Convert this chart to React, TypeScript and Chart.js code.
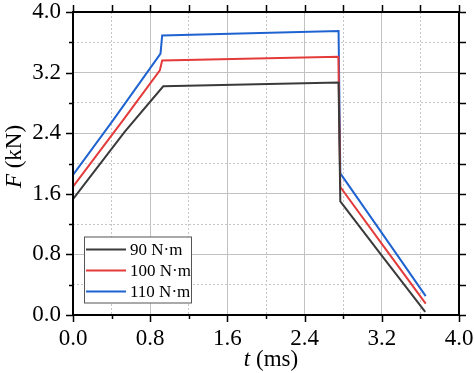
import React, { useEffect, useRef } from 'react';
import { Chart, registerables } from 'chart.js';

Chart.register(...registerables);

// ---- data (t in ms, F in kN) ----
const t90 = [0, 0.537, 0.935, 2.752, 2.77, 3.19, 3.65];
const f90 = [1.53, 2.42, 3.02, 3.07, 1.5, 0.8, 0.04];

const t100 = [0, 0.523, 0.9, 0.924, 2.75, 2.77, 3.28, 3.655];
const f100 = [1.695, 2.58, 3.23, 3.36, 3.41, 1.69, 0.8, 0.15];

const t110 = [0, 0.42, 0.907, 0.924, 2.752, 2.77, 3.355, 3.655];
const f110 = [1.85, 2.58, 3.45, 3.69, 3.75, 1.87, 0.8, 0.25];

const seriesLabels = ['90 N·m', '100 N·m', '110 N·m'];
const seriesColors = ['#3a3a3a', '#e53a3a', '#1f63d1'];

const axisMin = 0;
const axisMax = 4;
const tickStep = 0.4;
const majorStep = 0.8;

const FONT = '"Liberation Serif", "Times New Roman", serif';

const isMajor = (v: number) => Math.abs(v / majorStep - Math.round(v / majorStep)) < 1e-6;

const toPoints = (xs: number[], ys: number[]) => xs.map((x, i) => ({ x, y: ys[i] }));

const decorPlugin = {
  id: 'decor',
  afterDraw(chart: any) {
    const { ctx, chartArea: a, scales } = chart;
    const xs = scales.x;
    const ys = scales.y;
    ctx.save();
    // tick marks on all four sides
    ctx.strokeStyle = '#000';
    ctx.lineWidth = 1.5;
    ctx.beginPath();
    xs.ticks.forEach((t: any) => {
      const px = Math.round(xs.getPixelForValue(t.value)) + 0.5;
      const len = isMajor(t.value) ? 7 : 4;
      ctx.moveTo(px, a.bottom);
      ctx.lineTo(px, a.bottom + len);
      ctx.moveTo(px, a.top);
      ctx.lineTo(px, a.top - 7);
    });
    ys.ticks.forEach((t: any) => {
      const py = Math.round(ys.getPixelForValue(t.value)) + 0.5;
      const len = isMajor(t.value) ? 7 : 4;
      ctx.moveTo(a.left, py);
      ctx.lineTo(a.left - len, py);
      ctx.moveTo(a.right, py);
      ctx.lineTo(a.right + 7, py);
    });
    ctx.stroke();
    // frame
    ctx.lineWidth = 2;
    ctx.strokeRect(a.left, a.top, a.right - a.left, a.bottom - a.top);

    // legend
    const lx = 84.5, ly = 237, lw = 107, lh = 66;
    ctx.fillStyle = '#fff';
    ctx.fillRect(lx, ly, lw, lh);
    ctx.strokeStyle = '#555';
    ctx.lineWidth = 1;
    ctx.strokeRect(lx, ly, lw, lh);
    const rows = [249.5, 270.5, 291.5];
    ctx.font = `17px ${FONT}`;
    ctx.textBaseline = 'middle';
    ctx.textAlign = 'left';
    chart.data.datasets.forEach((ds: any, i: number) => {
      ctx.strokeStyle = ds.borderColor;
      ctx.lineWidth = 2;
      ctx.beginPath();
      ctx.moveTo(86, rows[i]);
      ctx.lineTo(126, rows[i]);
      ctx.stroke();
      ctx.fillStyle = '#000';
      ctx.fillText(ds.label, 130, rows[i] + 1);
    });

    // axis titles (italic symbol + upright unit)
    const drawTitle = (sym: string, unit: string) => {
      ctx.font = `italic 23px ${FONT}`;
      const w1 = ctx.measureText(sym).width;
      ctx.font = `23px ${FONT}`;
      const w2 = ctx.measureText(unit).width;
      const total = w1 + w2;
      ctx.textAlign = 'left';
      ctx.textBaseline = 'alphabetic';
      ctx.fillStyle = '#000';
      ctx.font = `italic 23px ${FONT}`;
      ctx.fillText(sym, -total / 2, 0);
      ctx.font = `23px ${FONT}`;
      ctx.fillText(unit, -total / 2 + w1, 0);
    };
    ctx.save();
    ctx.translate(271, 366);
    drawTitle('t', ' (ms)');
    ctx.restore();
    ctx.save();
    ctx.translate(21, 156.5);
    ctx.rotate(-Math.PI / 2);
    drawTitle('F', ' (kN)');
    ctx.restore();

    ctx.restore();
  },
};

const gridOpts = {
  drawTicks: false,
  lineWidth: 1,
  color: (c: any) => (c.tick && isMajor(c.tick.value) ? '#c2c2c2' : '#c6c6c6'),
};
const borderOpts = {
  display: false,
  dash: (c: any) => (c.tick && !isMajor(c.tick.value) ? [2, 2] : []),
};

export default function App() {
  const ref = useRef<HTMLCanvasElement | null>(null);
  useEffect(() => {
    if (!ref.current) return;
    const xs = [t90, t100, t110];
    const ys = [f90, f100, f110];
    const chart = new Chart(ref.current, {
      type: 'line',
      data: {
        datasets: seriesLabels.map((label, i) => ({
          label,
          data: toPoints(xs[i], ys[i]),
          borderColor: seriesColors[i],
          backgroundColor: seriesColors[i],
          borderWidth: 2,
          pointRadius: 0,
          tension: 0,
          fill: false,
        })),
      },
      options: {
        responsive: false,
        animation: false,
        layout: { padding: { left: 0, top: 12, right: 15, bottom: 0 } },
        plugins: {
          legend: { display: false },
          tooltip: { enabled: false },
        },
        scales: {
          x: {
            type: 'linear',
            min: axisMin,
            max: axisMax,
            grid: gridOpts,
            border: borderOpts,
            ticks: {
              stepSize: tickStep,
              autoSkip: false,
              maxRotation: 0,
              padding: 10,
              color: '#000',
              font: { family: FONT, size: 23 },
              callback: (v: any) => (isMajor(Number(v)) ? Number(v).toFixed(1) : ''),
            },
            afterFit: (s: any) => {
              s.height = 58;
              s.paddingLeft = 0;
              s.paddingRight = 0;
            },
          },
          y: {
            type: 'linear',
            min: axisMin,
            max: axisMax,
            grid: gridOpts,
            border: borderOpts,
            ticks: {
              stepSize: tickStep,
              autoSkip: false,
              padding: 12,
              color: '#000',
              font: { family: FONT, size: 23 },
              callback: (v: any) => (isMajor(Number(v)) ? Number(v).toFixed(1) : ''),
            },
            afterFit: (s: any) => {
              s.width = 73;
              s.paddingTop = 0;
              s.paddingBottom = 0;
            },
          },
        },
      },
      plugins: [decorPlugin],
    });
    return () => chart.destroy();
  }, []);
  return (
    <div style={{ position: 'fixed', left: 0, top: 0, width: 474, height: 373, background: '#fff' }}>
      <canvas ref={ref} width={474} height={373} />
    </div>
  );
}
